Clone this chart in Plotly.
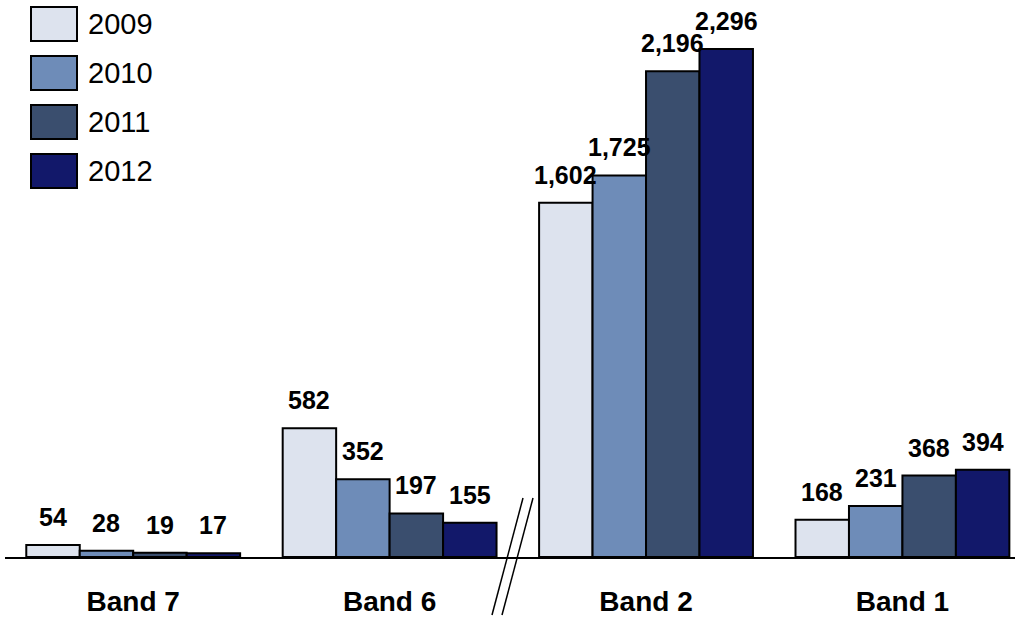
import plotly.graph_objects as go

categories = ["Band 7", "Band 6", "Band 2", "Band 1"]
years = ["2009", "2010", "2011", "2012"]
values_2009 = [54, 582, 1602, 168]
values_2010 = [28, 352, 1725, 231]
values_2011 = [19, 197, 2196, 368]
values_2012 = [17, 155, 2296, 394]
series = [values_2009, values_2010, values_2011, values_2012]
colors = ["#DDE3EE", "#6E8CB8", "#3A4E6E", "#12186A"]

FONT = "Liberation Sans, Arial, sans-serif"
BARGAP = 0.166
W, H = 1021, 618
ML, MR, MT, MB = 5, 6, 0, 61
PW = W - ML - MR
PH = H - MT - MB

fig = go.Figure()
for yr, vals, col in zip(years, series, colors):
    fig.add_trace(go.Bar(
        x=categories, y=vals, name=yr,
        marker=dict(color=col, line=dict(color="black", width=2)),
        showlegend=False,
    ))

# value labels
wbar = (1 - BARGAP) / len(series)
annotations = []
for s, vals in enumerate(series):
    for i, v in enumerate(vals):
        annotations.append(dict(
            x=i + (s - (len(series) - 1) / 2) * wbar, y=v, xref="x", yref="y",
            text=f"{v:,}", showarrow=False, yanchor="bottom", yshift=12,
            font=dict(family=FONT, size=25, color="black", weight="bold"),
        ))

def px2paper(px, py):
    return (px - ML) / PW, (H - MB - py) / PH

shapes = []
# custom legend
for k, (yr, col) in enumerate(zip(years, colors)):
    top = 7 + k * 49
    x0, y0 = px2paper(31, top + 34)
    x1, y1 = px2paper(77, top)
    shapes.append(dict(type="rect", xref="paper", yref="paper", x0=x0, y0=y0, x1=x1, y1=y1,
                       fillcolor=col, line=dict(color="black", width=2)))
    tx, ty = px2paper(86, top + 17)
    annotations.append(dict(x=tx, y=ty, xref="paper", yref="paper", text=yr, showarrow=False,
                            xanchor="left", yanchor="middle",
                            font=dict(family=FONT, size=29, color="black")))

# axis break marks
for dx in (0, 10):
    x0, y0 = px2paper(492 + dx, 615)
    x1, y1 = px2paper(523 + dx, 498)
    shapes.append(dict(type="line", xref="paper", yref="paper", x0=x0, y0=y0, x1=x1, y1=y1,
                       line=dict(color="black", width=1.5)))

fig.update_layout(
    width=W, height=H,
    margin=dict(l=ML, r=MR, t=MT, b=MB, autoexpand=False),
    barmode="group", bargap=BARGAP, bargroupgap=0,
    plot_bgcolor="white", paper_bgcolor="white",
    annotations=annotations, shapes=shapes,
    xaxis=dict(showline=True, linecolor="black", linewidth=2, ticks="", showgrid=False,
               range=[-0.5, 3.439], ticklabelstandoff=18, automargin=False,
               tickfont=dict(family=FONT, size=28, color="black", weight="bold")),
    yaxis=dict(visible=False, range=[0, 2518], showgrid=False, zeroline=False),
)
fig.write_html("out.html", config={"displayModeBar": False},
               post_script="document.body.style.margin='0';document.body.style.overflow='hidden';")
